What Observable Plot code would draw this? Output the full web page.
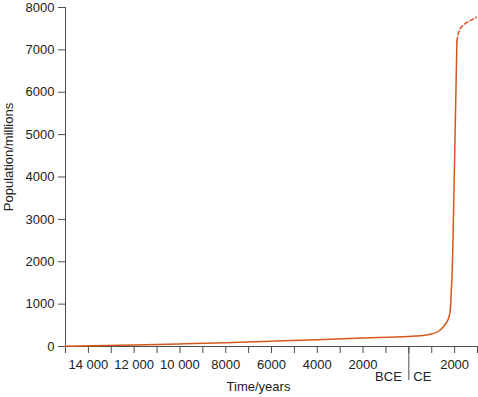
<!DOCTYPE html>
<html>
<head>
<meta charset="utf-8">
<script src="https://cdn.jsdelivr.net/npm/d3@7"></script>
<script src="https://cdn.jsdelivr.net/npm/@observablehq/plot@0.6"></script>
<style>
  html, body { margin: 0; padding: 0; background: #fff; }
  #chart svg { display: block; }
</style>
</head>
<body>
<div id="chart"></div>
<script>
// Data (year: negative = BCE; population in millions)
const years = [-15000, -12000, -10000, -8000, -6000, -4000, -2000, 0, 500, 1000, 1300, 1500, 1650, 1750, 1800, 1830, 1850, 1880, 1990, 2100];
const population = [5, 35, 60, 90, 125, 160, 200, 235, 254, 295, 360, 460, 570, 690, 820, 1000, 1280, 1540, 4150, 7200];
const projYears = [2100, 2140, 2200, 2320, 2540, 2750, 2950];
const projPopulation = [7200, 7340, 7450, 7550, 7650, 7710, 7770];

const xTicks = d3.range(-15000, 3001, 1000);
const xLabelTicks = [-14000, -12000, -10000, -8000, -6000, -4000, -2000, 2000];
const yTicks = d3.range(0, 8001, 1000);
const eraDivider = [0];
const xTitle = "Time/years";
const yTitle = "Population/millions";

const solid = years.map((y, i) => ({year: y, pop: population[i]}));
const proj = projYears.map((y, i) => ({year: y, pop: projPopulation[i]}));

const fmtX = d => {
  const a = Math.abs(d);
  return a >= 10000 ? String(a).replace(/(\d+)(\d{3})$/, "$1 $2") : String(a);
};

const lineColor = "#d4561c";
const axisColor = "#4d4d4d";
const textColor = "#222";

const chart = Plot.plot({
  width: 478,
  height: 397,
  marginLeft: 65,
  marginRight: 1,
  marginTop: 7,
  marginBottom: 51,
  style: {fontFamily: "'Liberation Sans', Arial, sans-serif", fontSize: "13px", color: textColor, background: "#fff"},
  x: {domain: [-15000, 3000]},
  y: {domain: [0, 8000]},
  marks: [
    Plot.axisY({ticks: yTicks, tickSize: 7, tickPadding: 4, tickFormat: d => String(d), label: null, stroke: axisColor, fill: textColor}),
    Plot.axisX({ticks: xTicks, tickSize: 7, fill: "none", label: null, stroke: axisColor}),
    Plot.axisX({ticks: xLabelTicks, tickSize: 0, tickPadding: 13, tickFormat: fmtX, label: null, fill: textColor}),
    Plot.axisX({ticks: eraDivider, tickSize: 34, fill: "none", label: null, stroke: axisColor}),
    Plot.ruleX([-15000], {y1: 0, y2: 8000, stroke: axisColor}),
    Plot.ruleY([0], {stroke: axisColor}),
    Plot.text(["BCE"], {x: () => eraDivider[0], frameAnchor: "bottom", text: d => d, textAnchor: "end", lineAnchor: "middle", dx: -7, dy: 30, fill: textColor, fontSize: 13}),
    Plot.text(["CE"], {x: () => eraDivider[0], frameAnchor: "bottom", text: d => d, textAnchor: "start", lineAnchor: "middle", dx: 4.5, dy: 30, fill: textColor, fontSize: 13}),
    Plot.text([xTitle], {frameAnchor: "bottom", text: d => d, textAnchor: "middle", lineAnchor: "middle", dx: -13, dy: 40, fill: textColor, fontSize: 13}),
    Plot.text([yTitle], {frameAnchor: "left", text: d => d, rotate: -90, textAnchor: "middle", lineAnchor: "middle", dx: -57, dy: -20, fill: textColor, fontSize: 13}),
    Plot.line(solid, {x: "year", y: "pop", stroke: lineColor, strokeWidth: 1.5, curve: "monotone-x"}),
    Plot.line(proj, {x: "year", y: "pop", stroke: lineColor, strokeWidth: 1.5, strokeDasharray: "4,2.5", curve: "monotone-x"})
  ]
});

document.getElementById("chart").append(chart);
</script>
</body>
</html>
